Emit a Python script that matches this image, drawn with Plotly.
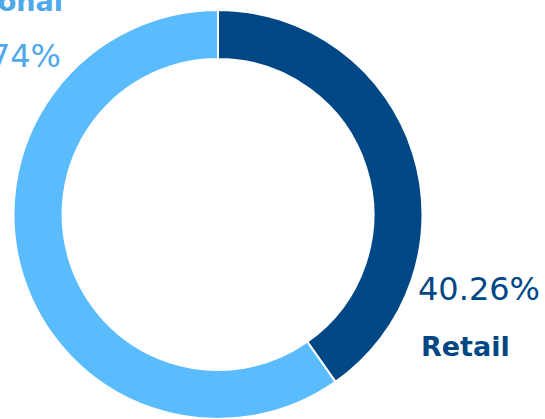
import plotly.graph_objects as go

labels = ["Retail", "Institutional"]
values = [40.26, 59.74]
colors = ["#004785", "#5bbcfd"]
text_colors = ["#004785", "#4ea8ea"]

W, H = 545, 419
cx, cy, r = 218, 214.5, 204.5
FONT = "DejaVu Sans"

fig = go.Figure(go.Pie(
    labels=labels, values=values, sort=False, direction="clockwise", rotation=0,
    hole=0.76, textinfo="none", hoverinfo="label+percent",
    marker=dict(colors=colors, line=dict(color="white", width=2)),
    domain=dict(x=[(cx - r) / W, (cx + r) / W], y=[0, (2 * r) / H]),
    showlegend=False,
))

pct = [f"{v:.2f}%" for v in values]
ann = [
    dict(x=416 / W, y=1 - 289 / H, text=pct[0], xanchor="left", yanchor="middle",
         font=dict(size=32, color=text_colors[0], family=FONT)),
    dict(x=419 / W, y=1 - 346 / H, text=f"<b>{labels[0]}</b>", xanchor="left", yanchor="middle",
         font=dict(size=27, color=text_colors[0], family=FONT)),
    dict(x=63 / W, y=1 - 56 / H, text=pct[1], xanchor="right", yanchor="middle",
         font=dict(size=32, color=text_colors[1], family=FONT)),
    dict(x=65 / W, y=1 - 2 / H, text=f"<b>{labels[1]}</b>", xanchor="right", yanchor="middle",
         font=dict(size=27, color=text_colors[1], family=FONT)),
]
for a in ann:
    a.update(xref="paper", yref="paper", showarrow=False)

fig.update_layout(width=W, height=H, margin=dict(l=0, r=0, t=0, b=0),
                  paper_bgcolor="white", plot_bgcolor="white", annotations=ann)
fig.write_html("out.html")
